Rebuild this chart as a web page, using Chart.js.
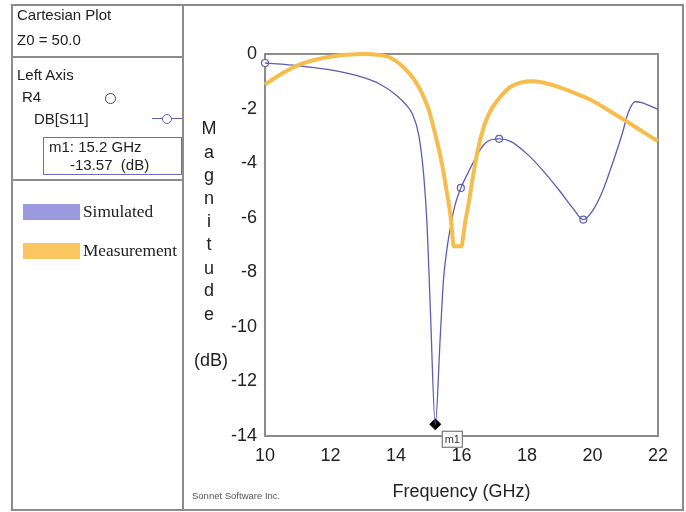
<!DOCTYPE html>
<html>
<head>
<meta charset="utf-8">
<script src="https://cdn.jsdelivr.net/npm/chart.js@4/dist/chart.umd.min.js"></script>
<style>
  html, body { margin: 0; padding: 0; background: #fff; }
  body { width: 686px; height: 512px; position: relative; overflow: hidden; font-family: "Liberation Sans", Arial, sans-serif; color: #222; }
  #c { position: absolute; left: 0; top: 0; }
  .abs { position: absolute; white-space: pre; }
  .ptxt { font-size: 15px; line-height: 18px; height: 18px; }
  .frame { position: absolute; left: 11px; top: 4px; width: 673px; height: 507px; border: 2px solid #8c8c8c; box-sizing: border-box; }
  .vline { position: absolute; left: 182px; top: 4px; width: 2px; height: 507px; background: #8c8c8c; }
  .hline { position: absolute; left: 11px; width: 172px; height: 2px; background: #8c8c8c; }
  .ylet { position: absolute; left: 194px; width: 30px; text-align: center; font-size: 18px; line-height: 22px; height: 22px; }
  .sw { position: absolute; left: 23px; width: 57px; height: 16px; }
  .lg { position: absolute; left: 83px; font-family: "Liberation Serif", "Times New Roman", serif; font-size: 17.3px; line-height: 20px; height: 20px; }
</style>
</head>
<body>
<canvas id="c" width="686" height="512"></canvas>
<div id="overlay"></div>
<script>
// ---------- data ----------
const simFreq = [10, 10.5, 11, 11.5, 12, 12.5, 13, 13.5, 14, 14.3, 14.5, 14.7, 14.85, 14.95, 15.05, 15.2, 15.35, 15.45, 15.55, 15.65, 15.8, 15.98, 16.2, 16.4, 16.6, 16.8, 17.15, 17.5, 18, 18.5, 19, 19.4, 19.72, 20, 20.3, 20.6, 20.9, 21.1, 21.3, 21.5, 21.75, 22];
const simDb   = [-0.33, -0.37, -0.43, -0.5, -0.58, -0.7, -0.86, -1.1, -1.5, -1.85, -2.2, -3.0, -4.5, -6.3, -9.4, -13.57, -10.4, -8.27, -7.2, -6.44, -5.55, -4.91, -4.35, -3.88, -3.45, -3.2, -3.11, -3.2, -3.66, -4.29, -5.02, -5.65, -6.07, -5.75, -5.05, -4.05, -2.95, -2.12, -1.75, -1.78, -1.9, -2.03];

const simMarkFreq = [10, 15.98, 17.15, 19.72];
const simMarkDb   = [-0.33, -4.91, -3.11, -6.07];

const measFreq = [10, 10.3, 10.6, 11, 11.5, 12, 12.5, 13, 13.5, 13.8, 14.1, 14.4, 14.6, 14.8, 15.0, 15.2, 15.4, 15.55, 15.65, 15.72, 15.76, 16.0, 16.06, 16.12, 16.2, 16.35, 16.5, 16.7, 16.9, 17.2, 17.5, 17.8, 18.2, 18.6, 19.0, 19.5, 20, 20.5, 21, 21.5, 22];
const measDb   = [-1.12, -0.88, -0.66, -0.42, -0.22, -0.1, -0.03, 0, -0.04, -0.12, -0.35, -0.7, -1.02, -1.45, -2.05, -2.95, -4.0, -5.05, -5.8, -6.6, -7.05, -7.05, -6.6, -6.1, -5.6, -4.5, -3.5, -2.6, -2.05, -1.55, -1.2, -1.05, -1.0, -1.08, -1.22, -1.45, -1.71, -2.07, -2.44, -2.82, -3.2];

const markerName = ["m1"];
const markerFreq = [15.2];
const markerDb   = [-13.57];

const xTickValues = [10, 12, 14, 16, 18, 20, 22];
const yTickValues = [0, -2, -4, -6, -8, -10, -12, -14];

const xTitle = "Frequency (GHz)";
const yTitleLetters = ["M", "a", "g", "n", "i", "t", "u", "d", "e"];
const yTitleUnit = "(dB)";
const seriesNames = ["Simulated", "Measurement"];
const panelTexts = ["Cartesian Plot", "Z0 = 50.0", "Left Axis", "R4", "DB[S11]", "m1: 15.2 GHz", "-13.57  (dB)"];
const credit = "Sonnet Software Inc.";

// ---------- styles ----------
const simColor = "#5d5db3";
const simSwatch = "#9c9ade";
const measColor = "#f6bd4c";
const measSwatch = "#fbc660";
const FONT = "'Liberation Sans', Arial, sans-serif";

// ---------- overlay (panel text) ----------
const ov = document.getElementById('overlay');
function add(html) { ov.insertAdjacentHTML('beforeend', html); }
add('<div class="frame"></div><div class="vline"></div>');
add('<div class="hline" style="top:56px"></div><div class="hline" style="top:179px"></div>');
const pPos = [[17, 15], [17, 40], [17, 75], [22, 97], [34, 119], [49, 147], [70, 165]];
panelTexts.forEach((t, i) => add('<div class="abs ptxt" style="left:' + pPos[i][0] + 'px;top:' + (pPos[i][1] - 9) + 'px">' + t + '</div>'));
add('<div class="abs" style="left:105px;top:93px;width:9px;height:9px;border:1.3px solid #444;border-radius:50%;"></div>');
add('<div class="abs" style="left:152px;top:118px;width:30px;height:1.3px;background:' + simColor + '"></div>');
add('<div class="abs" style="left:162px;top:114px;width:8px;height:8px;border:1.3px solid ' + simColor + ';border-radius:50%;background:#fff"></div>');
add('<div class="abs" style="left:43px;top:137px;width:139px;height:38px;border:1.5px solid #6b6bb8;box-sizing:border-box"></div>');
add('<div class="sw" style="top:204px;background:' + simSwatch + '"></div>');
add('<div class="sw" style="top:243px;background:' + measSwatch + '"></div>');
add('<div class="lg" style="top:202px">' + seriesNames[0] + '</div>');
add('<div class="lg" style="top:241px">' + seriesNames[1] + '</div>');
const letY = [128, 151.5, 175, 198, 221, 244, 267.5, 290, 314];
yTitleLetters.forEach((l, i) => add('<div class="ylet" style="top:' + (letY[i] - 11) + 'px">' + l + '</div>'));
add('<div class="ylet" style="top:' + (360 - 11) + 'px">' + yTitleUnit + '</div>');
add('<div class="abs" style="left:192px;top:490px;font-size:9.5px;line-height:12px;color:#555">' + credit + '</div>');

// ---------- chart ----------
const toXY = (xs, ys) => xs.map((x, i) => ({ x: x, y: ys[i] }));

const framePlugin = {
  id: 'framePlugin',
  beforeDatasetsDraw(chart) {
    const { ctx, chartArea: a } = chart;
    ctx.save();
    ctx.strokeStyle = '#8c8c8c';
    ctx.lineWidth = 2;
    ctx.strokeRect(a.left, a.top, a.right - a.left, a.bottom - a.top);
    ctx.restore();
  },
  afterDatasetsDraw(chart) {
    const { ctx } = chart;
    const xs = chart.scales.x, ys = chart.scales.y;
    ctx.save();
    markerFreq.forEach((f, i) => {
      const px = xs.getPixelForValue(f);
      const py = ys.getPixelForValue(markerDb[i]);
      const bx = px + 7, by = py + 7, bw = 20, bh = 16;
      ctx.fillStyle = '#fff';
      ctx.fillRect(bx, by, bw, bh);
      ctx.strokeStyle = '#777';
      ctx.lineWidth = 1.2;
      ctx.strokeRect(bx, by, bw, bh);
      ctx.fillStyle = '#333';
      ctx.font = '11px ' + FONT;
      ctx.textAlign = 'center';
      ctx.textBaseline = 'middle';
      ctx.fillText(markerName[i], bx + bw / 2, by + bh / 2 + 1);
    });
    ctx.restore();
  }
};

new Chart(document.getElementById('c'), {
  type: 'line',
  data: {
    datasets: [
      {
        label: seriesNames[1],
        data: toXY(measFreq, measDb),
        borderColor: measColor,
        borderWidth: 4,
        pointRadius: 0,
        cubicInterpolationMode: 'monotone',
        clip: false
      },
      {
        label: seriesNames[0],
        data: toXY(simFreq, simDb),
        borderColor: simColor,
        borderWidth: 1.3,
        pointRadius: 0,
        cubicInterpolationMode: 'monotone',
        clip: false
      },
      {
        label: 'sim markers',
        data: toXY(simMarkFreq, simMarkDb),
        showLine: false,
        pointRadius: 3.5,
        pointBackgroundColor: '#fff',
        pointBorderColor: simColor,
        pointBorderWidth: 1.2,
        clip: false
      },
      {
        label: markerName[0],
        data: toXY(markerFreq, markerDb),
        showLine: false,
        pointStyle: 'rectRot',
        pointRadius: 5.5,
        pointBackgroundColor: '#000',
        pointBorderColor: '#000',
        clip: false
      }
    ]
  },
  options: {
    responsive: false,
    animation: false,
    events: [],
    layout: { padding: { left: 185, right: 28, top: 54, bottom: 0 } },
    plugins: { legend: { display: false }, tooltip: { enabled: false } },
    scales: {
      x: {
        type: 'linear',
        min: 10, max: 22,
        grid: { display: false, drawTicks: false, tickLength: 0 },
        border: { display: false },
        afterBuildTicks: s => { s.ticks = xTickValues.map(v => ({ value: v })); },
        afterFit: s => { s.height = 76; },
        ticks: { padding: 9, color: '#222', font: { family: FONT, size: 18 } },
        title: { display: true, text: xTitle, color: '#222', font: { family: FONT, size: 18 }, padding: { top: 0, bottom: 9 } }
      },
      y: {
        type: 'linear',
        min: -14, max: 0,
        grid: { display: false, drawTicks: false, tickLength: 0 },
        border: { display: false },
        afterBuildTicks: s => { s.ticks = yTickValues.map(v => ({ value: v })); },
        afterFit: s => { s.width = 80; },
        ticks: { padding: 8, color: '#222', font: { family: FONT, size: 18 } }
      }
    }
  },
  plugins: [framePlugin]
});
</script>
</body>
</html>
